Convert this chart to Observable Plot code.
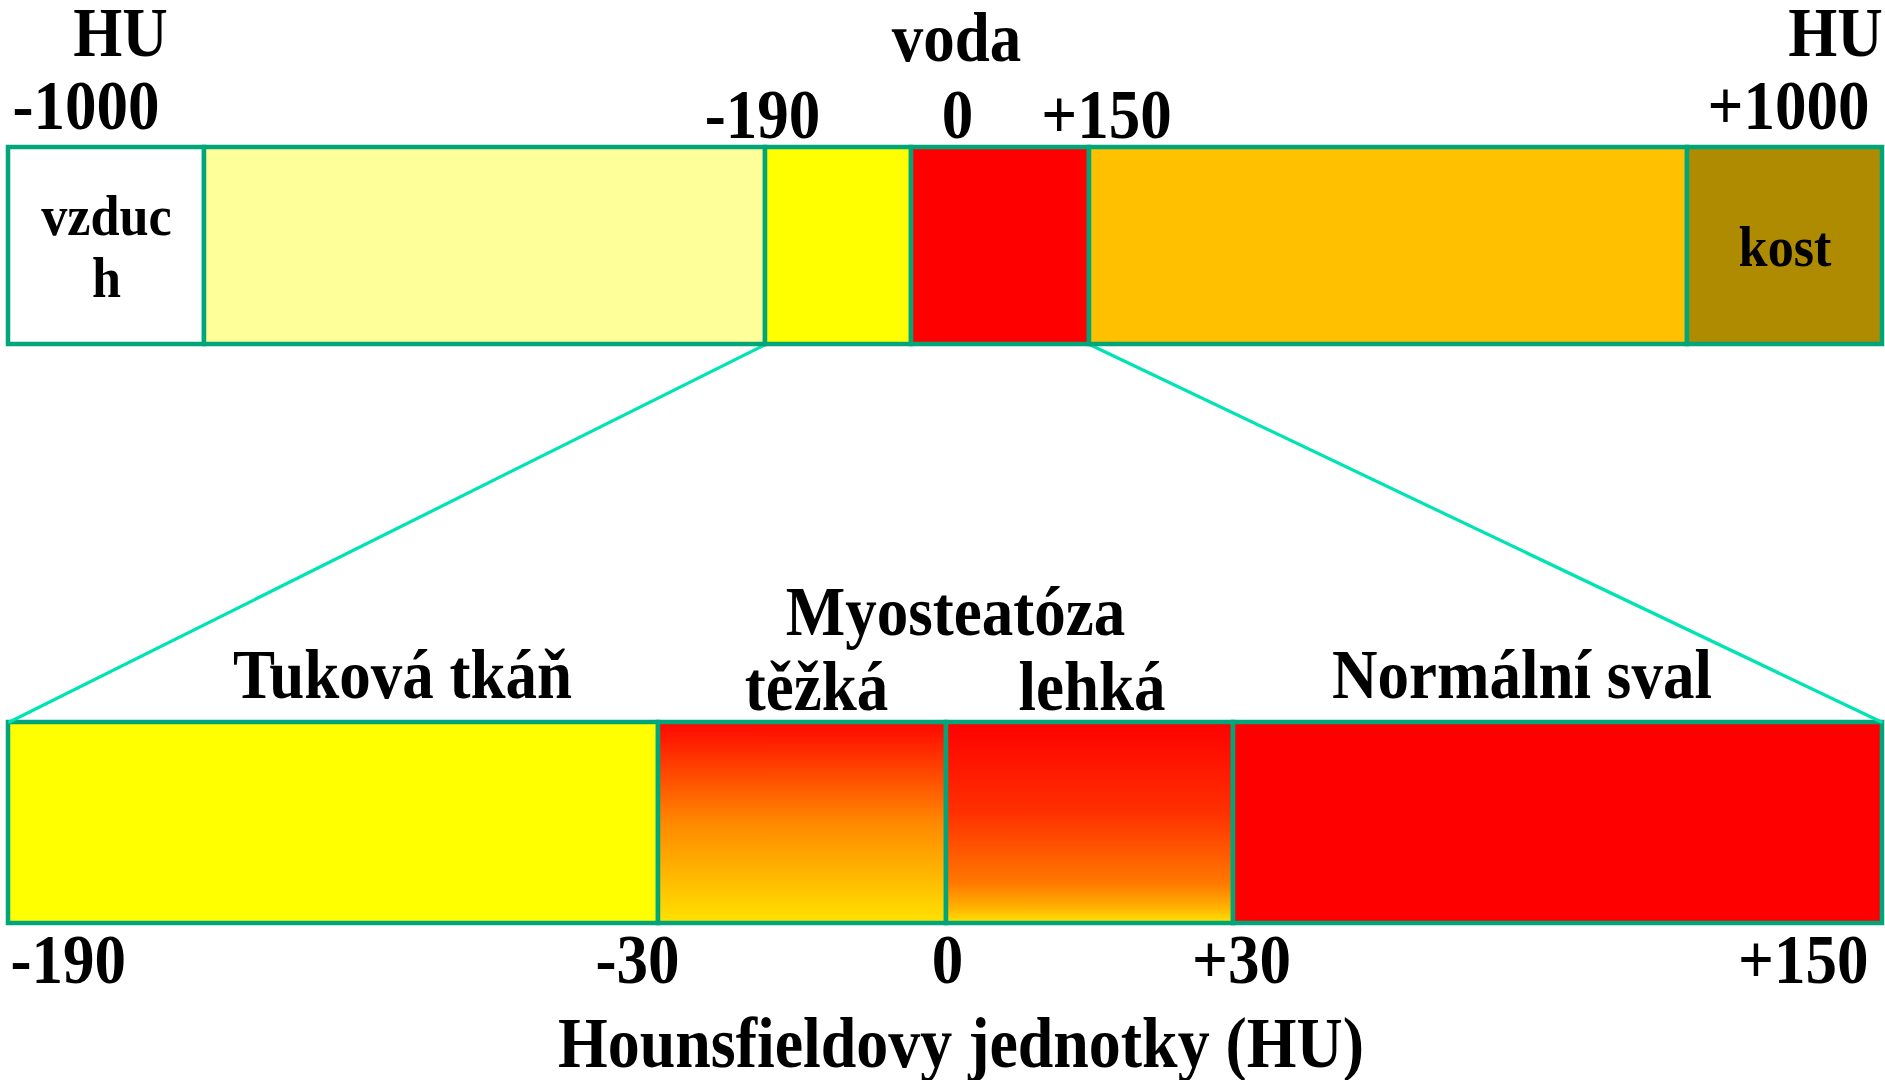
<!DOCTYPE html>
<html>
<head>
<meta charset="utf-8">
<script src="https://cdn.jsdelivr.net/npm/d3@7"></script>
<script src="https://cdn.jsdelivr.net/npm/@observablehq/plot@0.6"></script>
<style>
  html, body { margin: 0; padding: 0; background: #ffffff; }
  #chart { position: relative; width: 1885px; height: 1080px; overflow: hidden; }
  #chart svg { position: absolute; left: 0; top: 0; }
</style>
</head>
<body>
<div id="chart"></div>
<script>
// ---------------- data ----------------
// overview bar (whole HU range)
const overviewKeys   = ["air", "low", "fat", "water", "soft", "bone"];
const overviewBounds = [-1000, -900, -190, 0, 150, 700, 1000];
const overviewLabels = ["vzduc\nh", "", "", "", "", "kost"];
const overviewTickValues = [-1000, -190, 0, 150, 1000];
const overviewTickLabels = ["-1000", "-190", "0", "+150", "+1000"];
const unitLabel  = "HU";
const waterLabel = "voda";

// zoomed bar (-190 .. +150 HU)
const zoomKeys   = ["fat", "severe", "mild", "normal"];
const zoomBounds = [-190, -30, 0, 30, 150];
const zoomLabels = ["Tuková tkáň", "těžká", "lehká", "Normální sval"];
const zoomTickValues = [-190, -30, 0, 30, 150];
const zoomTickLabels = ["-190", "-30", "0", "+30", "+150"];
const groupLabel = "Myosteatóza";
const axisTitle  = "Hounsfieldovy jednotky (HU)";

// zoom connectors: overview value -> zoomed-bar edge (expressed on the overview scale)
const zoomFrom = [-190, 150];
const zoomTo   = [-1000, 1000];

// ---------------- styles / layout ----------------
const W = 1885, H = 1080;
const overviewColors = ["#FFFFFF", "#FFFF99", "#FFFF00", "#FF0000", "#FFC000", "#AE8B00"];
const zoomColors = ["#FFFF00", "url(#grad-severe)", "url(#grad-mild)", "#FF0000"];
const border = "#00A67A";
const connector = "#00E3B2";
const font = "'Liberation Serif', 'Times New Roman', serif";
// the bars are not drawn to a linear HU scale: piecewise layout of the breakpoints
const overviewStops = [8, 204, 765, 911, 1089, 1687, 1882];
const zoomStops = [8, 658, 946, 1233, 1882];
// y levels: 0 = zoom bar bottom, 1 = zoom bar top, 2 = overview bar bottom, 3 = overview bar top
const yLevels = [0, 1, 2, 3];
const yStops = [923, 722, 344, 147];

// ---------------- tables ----------------
const overview = overviewKeys.map((k, i) => ({key: k, start: overviewBounds[i], end: overviewBounds[i + 1], label: overviewLabels[i]}));
const overviewTicks = overviewTickValues.map((v, i) => ({value: v, label: overviewTickLabels[i]}));
const zoom = zoomKeys.map((k, i) => ({key: k, start: zoomBounds[i], end: zoomBounds[i + 1], label: zoomLabels[i]}));
const zoomTicks = zoomTickValues.map((v, i) => ({value: v, label: zoomTickLabels[i]}));
const links = zoomFrom.map((v, i) => ({from: v, to: zoomTo[i]}));

const at = (arr, key, v) => arr.filter(d => d[key] === v);

function gradients() {
  const defs = d3.create("svg:defs");
  const add = (id, stops) => {
    const g = defs.append("linearGradient").attr("id", id)
      .attr("x1", 0).attr("y1", 0).attr("x2", 0).attr("y2", 1);
    stops.forEach(([o, c]) => g.append("stop").attr("offset", o).attr("stop-color", c));
  };
  add("grad-severe", [[0, "#FF0600"], [0.5, "#FF8800"], [1, "#FFE200"]]);
  add("grad-mild", [[0, "#FF0000"], [0.45, "#FF3000"], [0.8, "#FF7800"], [0.92, "#FFB000"], [1, "#FFE400"]]);
  return defs.node();
}

function base(xBounds, xStops, colorDomain, colorRange, marks) {
  const xPiece = d3.scaleLinear(xBounds, xStops);
  const yPiece = d3.scaleLinear(yLevels, yStops);
  return Plot.plot({
    width: W, height: H, margin: 0,
    x: {transform: xPiece, domain: [0, W], range: [0, W], axis: null},
    y: {transform: yPiece, domain: [0, H], range: [0, H], axis: null},
    color: {type: "ordinal", domain: colorDomain, range: colorRange},
    style: {fontFamily: font, fontWeight: "bold", background: "transparent", color: "#000", overflow: "visible"},
    marks
  });
}

const T = {fill: "#000", fontWeight: "bold", fontSize: 70, lineAnchor: "bottom"};

// ---------- zoomed (bottom) plot ----------
const bottomPlot = base(zoomBounds, zoomStops, zoomKeys, zoomColors, [
  gradients,
  Plot.rect(zoom, {x1: "start", x2: "end", y1: 0, y2: 1, fill: "key", stroke: border, strokeWidth: 4.5}),
  // labels above segments
  Plot.text(at(zoom, "key", "fat"),    {...T, x: d => (d.start + d.end) / 2, y: 1, text: "label", dx: 69, dy: -25}),
  Plot.text(at(zoom, "key", "severe"), {...T, x: d => (d.start + d.end) / 2, y: 1, text: "label", dx: 14, dy: -13}),
  Plot.text(at(zoom, "key", "mild"),   {...T, x: d => (d.start + d.end) / 2, y: 1, text: "label", dx: 2, dy: -13}),
  Plot.text(at(zoom, "key", "normal"), {...T, x: d => (d.start + d.end) / 2, y: 1, text: "label", dx: -36, dy: -25}),
  Plot.text([groupLabel], {...T, x: 0, y: 1, text: d => d, dx: 9, dy: -88}),
  // tick labels below
  Plot.text(at(zoomTicks, "value", -190), {...T, x: "value", y: 0, text: "label", textAnchor: "start", dx: 2, dy: 59}),
  Plot.text(at(zoomTicks, "value", -30),  {...T, x: "value", y: 0, text: "label", dx: -21, dy: 59}),
  Plot.text(at(zoomTicks, "value", 0),    {...T, x: "value", y: 0, text: "label", dx: 1, dy: 59}),
  Plot.text(at(zoomTicks, "value", 30),   {...T, x: "value", y: 0, text: "label", dx: 8, dy: 59}),
  Plot.text(at(zoomTicks, "value", 150),  {...T, x: "value", y: 0, text: "label", textAnchor: "end", dx: -14, dy: 59}),
  // axis title
  Plot.text([axisTitle], {...T, fontSize: 71, frameAnchor: "bottom", text: d => d, dx: 18, dy: -14})
]);

// ---------- overview (top) plot ----------
const topPlot = base(overviewBounds, overviewStops, overviewKeys, overviewColors, [
  Plot.link(links, {x1: "from", x2: "to", y1: 2, y2: 1, stroke: connector, strokeWidth: 3.2}),
  Plot.rect(overview, {x1: "start", x2: "end", y1: 2, y2: 3, fill: "key", stroke: border, strokeWidth: 4.5}),
  Plot.text(overview.filter(d => d.label), {fill: "#000", fontWeight: "bold", fontSize: 58, lineHeight: 1.07,
    x: d => (d.start + d.end) / 2, y: 2.5, text: "label", lineAnchor: "middle"}),
  // unit labels
  Plot.text(at(overviewTicks, "value", -1000), {...T, x: "value", y: 3, text: () => unitLabel, dx: 112, dy: -92}),
  Plot.text(at(overviewTicks, "value", 1000),  {...T, x: "value", y: 3, text: () => unitLabel, dx: -47, dy: -92}),
  Plot.text(at(overviewTicks, "value", 0),     {...T, x: "value", y: 3, text: () => waterLabel, dx: 45, dy: -87}),
  // tick labels
  Plot.text(at(overviewTicks, "value", -1000), {...T, x: "value", y: 3, text: "label", textAnchor: "start", dx: 4, dy: -19}),
  Plot.text(at(overviewTicks, "value", 1000),  {...T, x: "value", y: 3, text: "label", textAnchor: "end", dx: -13, dy: -19}),
  Plot.text(at(overviewTicks, "value", -190),  {...T, x: "value", y: 3, text: "label", dx: -3, dy: -10}),
  Plot.text(at(overviewTicks, "value", 0),     {...T, x: "value", y: 3, text: "label", dx: 46, dy: -10}),
  Plot.text(at(overviewTicks, "value", 150),   {...T, x: "value", y: 3, text: "label", dx: 17, dy: -10})
]);

const chart = document.getElementById("chart");
chart.appendChild(bottomPlot);
chart.appendChild(topPlot);

// condense glyphs horizontally (the original lettering is a narrow bold serif)
function condense(svg, k) {
  svg.querySelectorAll("text").forEach(t => {
    const spans = t.querySelectorAll("tspan");
    const targets = spans.length ? Array.from(spans) : [t];
    targets.forEach(el => {
      const L = el.getComputedTextLength();
      if (L > 0) {
        el.setAttribute("textLength", (L * k).toFixed(1));
        el.setAttribute("lengthAdjust", "spacingAndGlyphs");
      }
    });
  });
}
condense(bottomPlot, 0.9);
condense(topPlot, 0.9);
</script>
</body>
</html>
